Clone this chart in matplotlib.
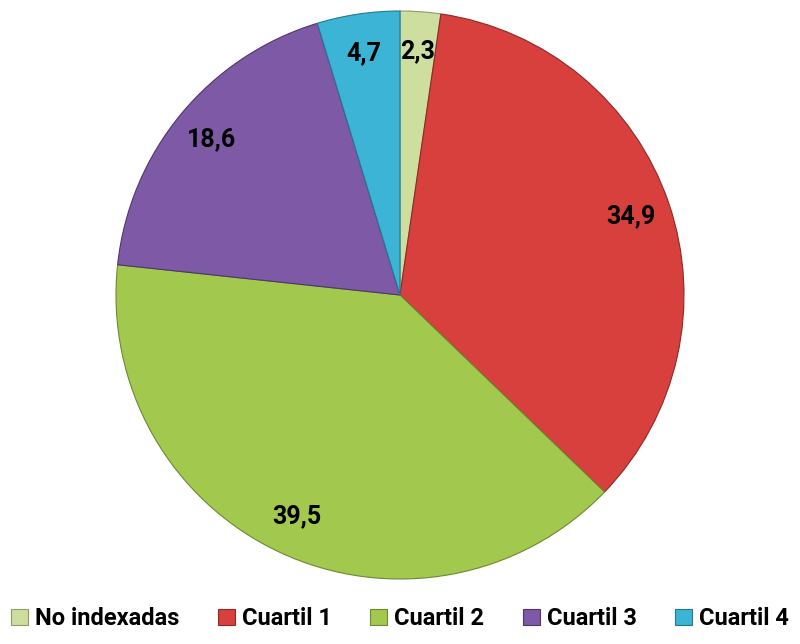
import matplotlib
matplotlib.use("Agg")
import matplotlib.pyplot as plt
from matplotlib.patches import Patch

categories = ["No indexadas", "Cuartil 1", "Cuartil 2", "Cuartil 3", "Cuartil 4"]
values = [2.3, 34.9, 39.5, 18.6, 4.7]
labels = ["2,3", "34,9", "39,5", "18,6", "4,7"]
colors = ["#CEDE9E", "#D8403E", "#A2C84E", "#7E59A5", "#3BB4D5"]
edges = ["#8E9C66", "#8E2826", "#6C8A30", "#4E3670", "#237890"]

fams = ["Roboto", "DejaVu Sans"]
plt.rcParams["font.family"] = fams

fig = plt.figure(figsize=(8, 6.44), dpi=100)
ax = fig.add_axes([116/800, (644-579)/644, 568/800, 568/644])
wedges, texts = ax.pie(values, colors=colors, startangle=90, counterclock=False,
                       radius=1, labels=labels, labeldistance=0.86,
                       wedgeprops=dict(linewidth=0.8),
                       textprops=dict(fontsize=18, fontweight="bold", color="black",
                                      ha="center", va="center"))
for w, e in zip(wedges, edges):
    w.set_edgecolor(e)
ax.set_xlim(-1.0, 1.0)
ax.set_ylim(-1.0, 1.0)
ax.set_aspect("equal")
ax.axis("off")

handles = [Patch(facecolor=c, edgecolor=e, linewidth=0.8) for c, e in zip(colors, edges)]
fig.legend(handles, categories, loc="lower center", bbox_to_anchor=(0.5, -0.012),
           ncol=5, frameon=False, handlelength=0.7, handleheight=0.7,
           handletextpad=0.3, columnspacing=1.65,
           prop=dict(family=fams, size=17, weight="bold"))

fig.savefig("out.png", dpi=100)
